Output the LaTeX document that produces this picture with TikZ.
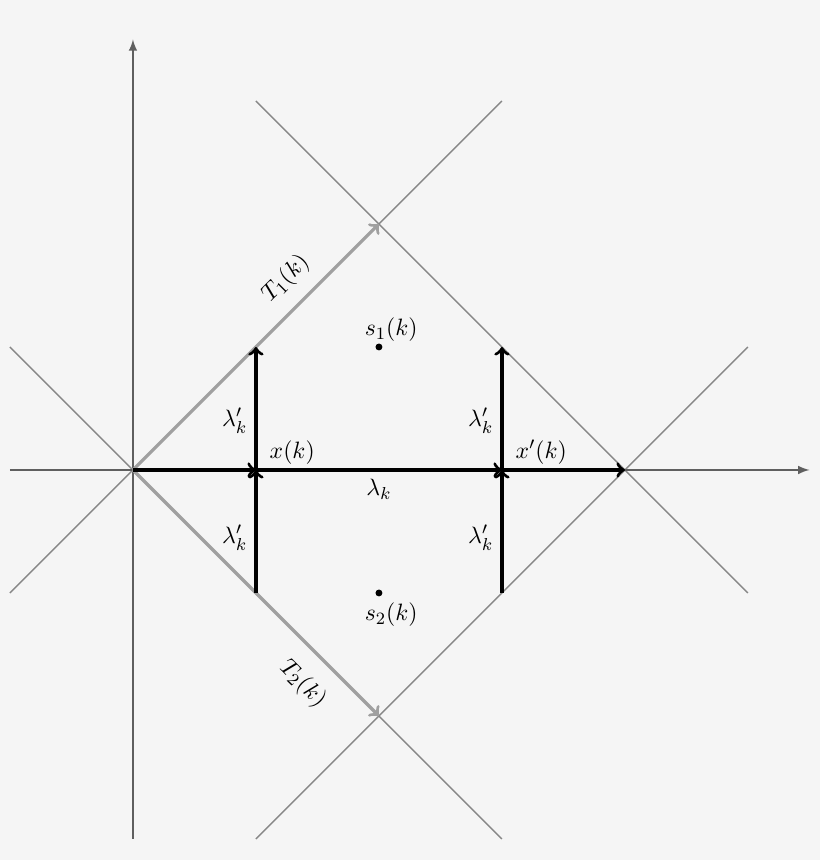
\documentclass[tikz,border=0pt]{standalone}
\definecolor{fon}{RGB}{245,245,245}
\definecolor{osi}{RGB}{95,95,95}
\definecolor{pryamye}{RGB}{135,135,135}
\definecolor{seryj}{RGB}{160,160,160}
\tikzset{
    os/.style = {draw = osi, line width = 0.8pt, -latex},
    pryamaya/.style = {draw = pryamye, line width = 0.65pt},
    granica/.style = {draw = seryj, line width = 1.5pt, ->},
    vektor/.style = {draw = black, line width = 1.5pt, ->},
    tochka/.style = {circle, fill, inner sep = 0pt, minimum size = 3.2pt}
}
\begin{document}
\begin{tikzpicture}[scale=2, font=\fontsize{11.3}{14}\selectfont]
        % фон
        \fill [fon] ( -1.081, -3.171 ) rectangle ( 5.585, 3.821 );

        % точки
        \coordinate (O) at ( 0, 0 );
        \coordinate (X) at ( 1, 0 );
        \coordinate (Xp) at ( 3, 0 );
        \coordinate (R) at ( 4, 0 );
        \coordinate (Top) at ( 2, 2 );
        \coordinate (Bot) at ( 2, -2 );
        \coordinate (A1) at ( 1, 1 );
        \coordinate (A2) at ( 1, -1 );
        \coordinate (B1) at ( 3, 1 );
        \coordinate (B2) at ( 3, -1 );

        % концы осей и прямых
        \coordinate (Ox1) at ( -1, 0 );
        \coordinate (Ox2) at ( 5.5, 0 );
        \coordinate (Oy1) at ( 0, -3 );
        \coordinate (Oy2) at ( 0, 3.5 );
        \coordinate (L1a) at ( -1, 1 );
        \coordinate (L1b) at ( 3, -3 );
        \coordinate (L2a) at ( -1, -1 );
        \coordinate (L2b) at ( 3, 3 );
        \coordinate (L3a) at ( 1, 3 );
        \coordinate (L3b) at ( 5, -1 );
        \coordinate (L4a) at ( 1, -3 );
        \coordinate (L4b) at ( 5, 1 );

        % прямые
        \draw [pryamaya] (L1a) -- (L1b);
        \draw [pryamaya] (L2a) -- (L2b);
        \draw [pryamaya] (L3a) -- (L3b);
        \draw [pryamaya] (L4a) -- (L4b);

        % оси
        \draw [os] (Ox1) -- (Ox2);
        \draw [os] (Oy1) -- (Oy2);

        % границы
        \draw [granica] (O) -- (Top) node [sloped, above = 3pt, pos = 0.7] (T1) {$T_1(k)$};
        \draw [granica] (O) -- (Bot) node [sloped, below = 5pt, pos = 0.78] (T2) {$T_2(k)$};

        % векторы
        \draw [vektor] (O) -- (X);
        \draw [vektor] (X) -- (Xp) node [below, midway] (lam) {$\lambda_k$};
        \draw [vektor] (Xp) -- (R);
        \draw [vektor] (X) -- (A1) node [left, pos = 0.4] (lA1) {$\lambda'_k$};
        \draw [vektor] (A2) -- (X) node [left, pos = 0.45] (lA2) {$\lambda'_k$};
        \draw [vektor] (Xp) -- (B1) node [left, pos = 0.4] (lB1) {$\lambda'_k$};
        \draw [vektor] (B2) -- (Xp) node [left, pos = 0.45] (lB2) {$\lambda'_k$};

        % подписи точек
        \node [above right, xshift = 1mm, yshift = -1pt] (xk) at (X) {$x(k)$};
        \node [above right, xshift = 1mm, yshift = -1pt] (xpk) at (Xp) {$x'(k)$};

        % центры
        \node [tochka] (S1) at ( 2, 1 ) {};
        \node [tochka] (S2) at ( 2, -1 ) {};
        \node [above = -1pt, xshift = 2mm] (s1) at (S1) {$s_1(k)$};
        \node [below = 1pt, xshift = 2mm] (s2) at (S2) {$s_2(k)$};
    \end{tikzpicture}
\end{document}
